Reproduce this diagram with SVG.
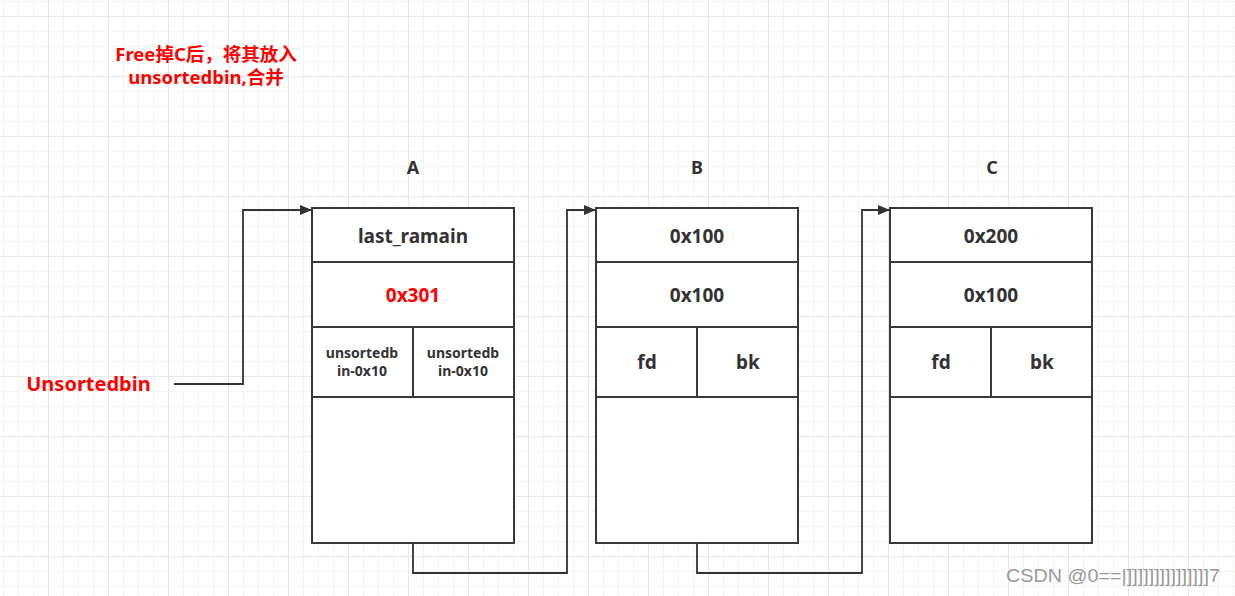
<svg xmlns="http://www.w3.org/2000/svg" width="1235" height="596" viewBox="0 0 1235 596">
<style>
.box{fill:#fff;stroke:#383838;stroke-width:2}
.t{font-family:"Noto Sans","Noto Sans CJK SC",sans-serif;font-weight:bold;fill:#333;text-anchor:middle}
.big{font-size:19px}
.sm{font-size:14px}
.red{fill:#ff0000}
.conn{fill:none;stroke:#333;stroke-width:1.8}
</style>
<defs>
<pattern id="minor" width="15" height="15" patternUnits="userSpaceOnUse" x="3" y="1">
<path d="M0 0H15M0 0V15" fill="none" stroke="#eaeaea" stroke-width="1"/>
</pattern>
<pattern id="major" width="60" height="60" patternUnits="userSpaceOnUse" x="48" y="16">
<path d="M0 0H60M0 0V60" fill="none" stroke="#dedede" stroke-width="1.2"/>
</pattern>
<marker id="arr" markerWidth="12" markerHeight="10" refX="11" refY="5" orient="auto" markerUnits="userSpaceOnUse">
<path d="M0 0L12 5L0 10Z" fill="#333"/>
</marker>
</defs>
<rect width="1235" height="596" fill="#fff"/>
<rect width="1235" height="596" fill="url(#minor)"/>
<rect width="1235" height="596" fill="url(#major)"/>

<g id="title">
<text class="t red" x="206" y="61" font-size="18.5">Free掉C后，将其放入</text>
<text class="t red" x="206" y="84" font-size="18.5">unsortedbin,合并</text>
</g>
<g id="unsortedbin">
<text class="t red" x="88.5" y="391" font-size="20">Unsortedbin</text>
</g>

<g id="labelA"><text class="t" x="413" y="174" font-size="18">A</text></g>
<g id="labelB"><text class="t" x="697" y="174" font-size="18">B</text></g>
<g id="labelC"><text class="t" x="992" y="174" font-size="18">C</text></g>

<g id="chunkA">
<rect class="box" x="312" y="208" width="202" height="335"/>
<rect class="box" x="312" y="208" width="202" height="54"/>
<rect class="box" x="312" y="262" width="202" height="65"/>
<rect class="box" x="312" y="327" width="101" height="70"/>
<rect class="box" x="413" y="327" width="101" height="70"/>
<text class="t big" x="413" y="243">last_ramain</text>
<text class="t big red" x="413" y="302">0x301</text>
<text class="t sm" x="362" y="358">unsortedb</text>
<text class="t sm" x="362" y="376">in-0x10</text>
<text class="t sm" x="463" y="358">unsortedb</text>
<text class="t sm" x="463" y="376">in-0x10</text>
</g>

<g id="chunkB">
<rect class="box" x="596" y="208" width="202" height="335"/>
<rect class="box" x="596" y="208" width="202" height="54"/>
<rect class="box" x="596" y="262" width="202" height="65"/>
<rect class="box" x="596" y="327" width="101" height="70"/>
<rect class="box" x="697" y="327" width="101" height="70"/>
<text class="t big" x="697" y="243">0x100</text>
<text class="t big" x="697" y="302">0x100</text>
<text class="t big" x="647" y="369">fd</text>
<text class="t big" x="748" y="369">bk</text>
</g>

<g id="chunkC">
<rect class="box" x="890" y="208" width="202" height="335"/>
<rect class="box" x="890" y="208" width="202" height="54"/>
<rect class="box" x="890" y="262" width="202" height="65"/>
<rect class="box" x="890" y="327" width="101" height="70"/>
<rect class="box" x="991" y="327" width="101" height="70"/>
<text class="t big" x="991" y="243">0x200</text>
<text class="t big" x="991" y="302">0x100</text>
<text class="t big" x="941" y="369">fd</text>
<text class="t big" x="1042" y="369">bk</text>
</g>

<g id="connectors">
<path class="conn" d="M174 384H243V210H311" marker-end="url(#arr)"/>
<path class="conn" d="M413 543V573H567V210H595" marker-end="url(#arr)"/>
<path class="conn" d="M697 543V573H862V210H889" marker-end="url(#arr)"/>
</g>

<g id="watermark">
<text x="1006" y="582" font-family="Liberation Sans, sans-serif" font-size="18" fill="#999" textLength="214" lengthAdjust="spacingAndGlyphs">CSDN @0==|]]]]]]]]]]]]]]]7</text>
</g>
</svg>
